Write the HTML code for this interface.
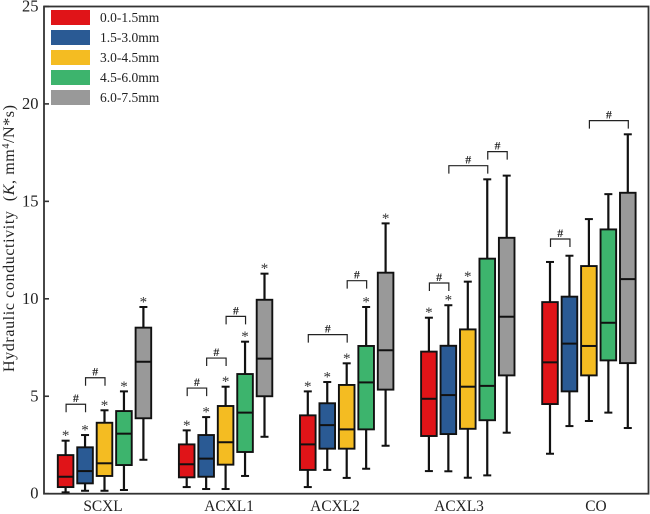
<!DOCTYPE html>
<html>
<head>
<meta charset="utf-8">
<title>Hydraulic conductivity box plot</title>
<style>
html,body{margin:0;padding:0;background:#fff;}
svg{display:block;font-family:"Liberation Serif",serif;}
</style>
</head>
<body>
<svg id="chart" width="650" height="514" viewBox="0 0 650 514" xmlns="http://www.w3.org/2000/svg">
  <rect x="44" y="6.5" width="604.5" height="487.2" fill="none" stroke="#333" stroke-width="1.8"/>
  <text transform="translate(14,238.5) rotate(-90)" text-anchor="middle" font-size="16" fill="#222" textLength="267" xml:space="preserve">Hydraulic conductivity  (<tspan font-style="italic">K</tspan>, mm<tspan font-size="10" dy="-5">4</tspan><tspan dy="5">/N*s)</tspan></text>
  <text x="103" y="511" text-anchor="middle" font-size="15.4" fill="#222">SCXL</text>
  <text x="229" y="511" text-anchor="middle" font-size="15.4" fill="#222">ACXL1</text>
  <text x="335" y="511" text-anchor="middle" font-size="15.4" fill="#222">ACXL2</text>
  <text x="459" y="511" text-anchor="middle" font-size="15.4" fill="#222">ACXL3</text>
  <text x="596" y="511" text-anchor="middle" font-size="15.4" fill="#222">CO</text>
  <g id="ticks"></g>
  <g id="boxes"></g>
  <g id="brackets"></g>
  <g id="legend"></g>
</svg>
<script>
const categories = ["SCXL", "ACXL1", "ACXL2", "ACXL3", "CO"];
const seriesNames = ["0.0-1.5mm", "1.5-3.0mm", "3.0-4.5mm", "4.5-6.0mm", "6.0-7.5mm"];
const seriesColors = ["#e01418", "#2a5a94", "#f4bc22", "#3db46d", "#999999"];
const yTicks = [0, 5, 10, 15, 20, 25];

const whiskerLow = [
  [0.07, 0.15, 0.15, 0.19, 1.74],
  [0.34, 0.24, 0.24, 0.91, 2.92],
  [0.34, 1.22, 0.81, 1.28, 2.46],
  [1.16, 1.15, 0.82, 0.94, 3.13],
  [2.05, 3.47, 3.73, 4.16, 3.37]
];
const quartile1 = [
  [0.34, 0.53, 0.91, 1.47, 3.87],
  [0.84, 0.87, 1.49, 2.14, 5.00],
  [1.22, 2.31, 2.31, 3.30, 5.34],
  [2.96, 3.06, 3.33, 3.77, 6.07],
  [4.60, 5.25, 6.07, 6.84, 6.70]
];
const medians = [
  [0.87, 1.16, 1.56, 3.08, 6.77],
  [1.51, 1.80, 2.64, 4.16, 6.93],
  [2.53, 3.52, 3.30, 5.71, 7.36],
  [4.87, 5.06, 5.49, 5.53, 9.08],
  [6.74, 7.70, 7.58, 8.77, 11.01]
];
const quartile3 = [
  [1.98, 2.38, 3.64, 4.24, 8.52],
  [2.53, 3.01, 4.50, 6.14, 9.95],
  [4.02, 4.64, 5.58, 7.58, 11.34],
  [7.29, 7.59, 8.43, 12.06, 13.13],
  [9.83, 10.11, 11.68, 13.56, 15.44]
];
const whiskerHigh = [
  [2.72, 3.01, 4.28, 5.25, 9.58],
  [3.25, 3.93, 5.49, 7.80, 11.29],
  [5.25, 5.73, 6.69, 9.58, 13.87],
  [9.03, 9.67, 10.88, 16.13, 16.32],
  [11.89, 12.21, 14.09, 15.37, 18.44]
];
const starFlags = [
  [1, 1, 1, 1, 1],
  [1, 1, 1, 1, 1],
  [1, 1, 1, 1, 1],
  [1, 1, 1, 0, 0],
  [0, 0, 0, 0, 0]
];
const bracketCategory = [0, 0, 1, 1, 1, 2, 2, 3, 3, 3, 4, 4];
const bracketFrom = [0, 1, 0, 1, 2, 0, 2, 0, 1, 3, 0, 2];
const bracketTo = [1, 2, 1, 2, 3, 2, 3, 1, 3, 4, 1, 4];
const bracketLevel = [4.59, 5.95, 5.42, 6.96, 9.10, 8.16, 10.93, 10.81, 16.83, 17.55, 13.07, 19.14];

const NS = "http://www.w3.org/2000/svg";
function y(v) { return 493.7 - v * 19.49; }
function catX(i) { return 104.5 + i * 121.1; }
function boxX(i, j) { return catX(i) + (j - 2) * 19.45; }
function make(tag, parent, props, text) {
  const el = document.createElementNS(NS, tag);
  for (const k in props) el.setAttribute(k, props[k]);
  if (text !== undefined) el.textContent = text;
  parent.appendChild(el);
  return el;
}

const ticksG = document.getElementById("ticks");
yTicks.forEach(function (t) {
  const tick = make("line", ticksG, { x1: 44, x2: 49, y1: y(t), y2: y(t), stroke: "#333", "stroke-width": 1.6 });
  
  
  const label = make("text", ticksG, { x: 38.5, y: y(t) + 5, "text-anchor": "end", "font-size": 16.5, fill: "#222" }, t);
  
  
});

const boxesG = document.getElementById("boxes");
categories.forEach(function (cat, i) {
  seriesNames.forEach(function (s, j) {
    const x = boxX(i, j);
    const g = make("g", boxesG, {});
    
    
    make("line", g, { x1: x, x2: x, y1: y(whiskerLow[i][j]), y2: y(whiskerHigh[i][j]), stroke: "#111", "stroke-width": 2.2 });
    make("line", g, { x1: x - 4, x2: x + 4, y1: y(whiskerLow[i][j]), y2: y(whiskerLow[i][j]), stroke: "#111", "stroke-width": 2 });
    make("line", g, { x1: x - 4, x2: x + 4, y1: y(whiskerHigh[i][j]), y2: y(whiskerHigh[i][j]), stroke: "#111", "stroke-width": 2 });
    make("rect", g, { x: x - 7.8, width: 15.6, y: y(quartile3[i][j]), height: y(quartile1[i][j]) - y(quartile3[i][j]), fill: seriesColors[j], stroke: "#111", "stroke-width": 1.9 });
    make("line", g, { x1: x - 7.8, x2: x + 7.8, y1: y(medians[i][j]), y2: y(medians[i][j]), stroke: "#111", "stroke-width": 2 });
    if (starFlags[i][j]) {
      const star = make("text", g, { x: x, y: y(whiskerHigh[i][j]) - 0.5, "text-anchor": "middle", "font-size": 15, fill: "#333" }, "*");
      
      
    }
  });
});

const bracketsG = document.getElementById("brackets");
bracketLevel.forEach(function (lv, k) {
  const x1 = boxX(bracketCategory[k], bracketFrom[k]) + 0.5;
  const x2 = boxX(bracketCategory[k], bracketTo[k]) + 0.5;
  const top = y(lv);
  const path = make("path", bracketsG, { d: "M" + x1 + " " + (top + 8) + "V" + top + "H" + x2 + "V" + (top + 8), fill: "none", stroke: "#222", "stroke-width": 1.2 });
  
  
  const mark = make("text", bracketsG, { x: (x1 + x2) / 2, y: top - 2, "text-anchor": "middle", "font-size": 12, "font-weight": "bold", fill: "#222" }, "#");
  
  
});

const legendG = document.getElementById("legend");
seriesNames.forEach(function (s, j) {
  const row = 10 + j * 20;
  const swatch = make("rect", legendG, { x: 51, y: row, width: 39, height: 15, fill: seriesColors[j] });
  
  
  const label = make("text", legendG, { x: 100, y: row + 12, "font-size": 13.5, fill: "#222" }, s);
  
  
});
</script>
</body>
</html>
